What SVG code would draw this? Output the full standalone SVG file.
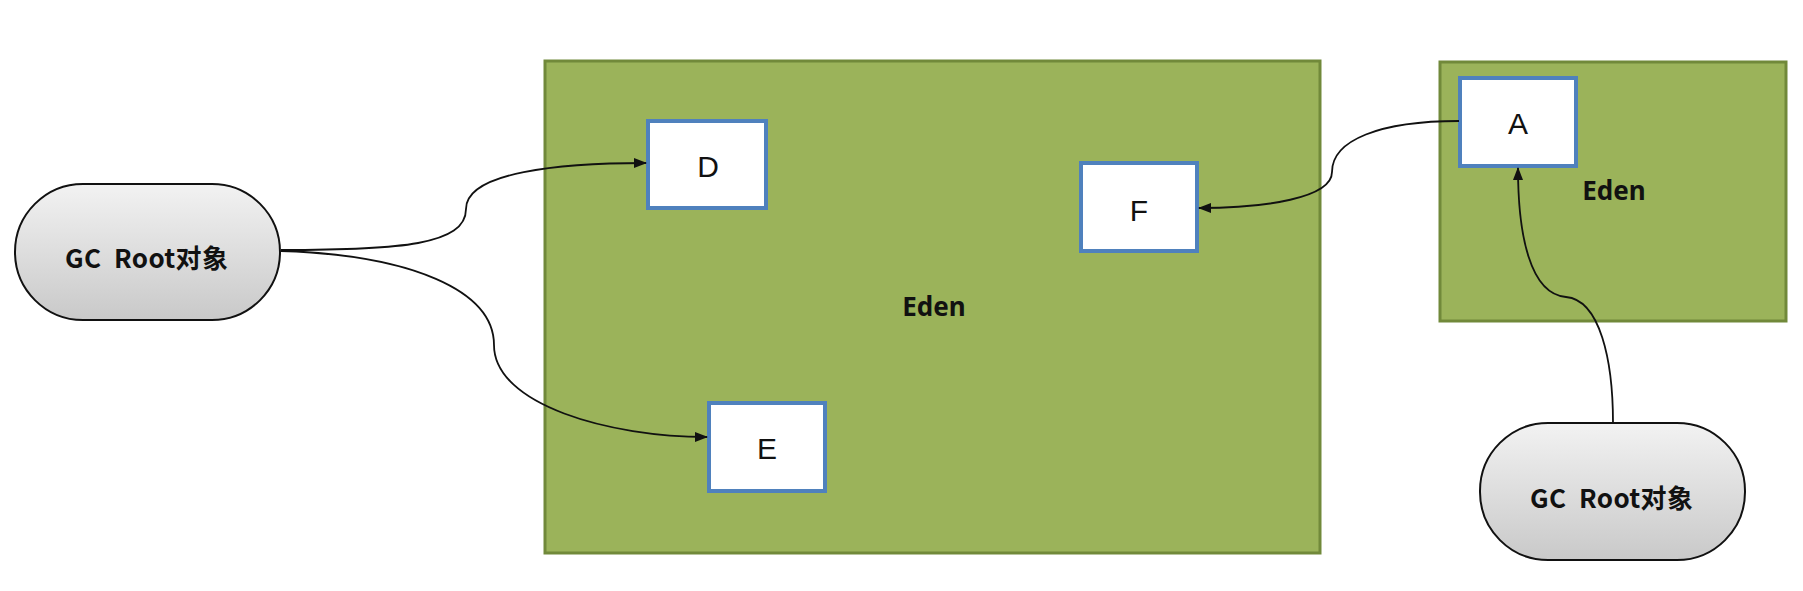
<svg xmlns="http://www.w3.org/2000/svg" width="1803" height="591" viewBox="0 0 1803 591">
<style>
.eden{fill:#9bb35a;stroke:#71893a;stroke-width:3}
.obj{fill:#ffffff;stroke:#4f81bd;stroke-width:4}
.lbl{font-family:"Liberation Sans","Noto Sans",sans-serif;font-size:30px;fill:#111;text-anchor:middle}
.edenlbl{font-family:"Noto Sans","Open Sans",sans-serif;font-weight:bold;font-size:26px;fill:#111;text-anchor:middle}
.root{fill:url(#g);stroke:#111;stroke-width:2}
.rootlbl{font-family:"Noto Sans CJK SC","Noto Sans",sans-serif;font-weight:bold;font-size:26px;fill:#111;white-space:pre}
.conn{fill:none;stroke:#111;stroke-width:1.8;marker-end:url(#arr)}
</style>
<defs>
<linearGradient id="g" x1="0" y1="0" x2="0" y2="1">
<stop offset="0" stop-color="#f2f2f2"/>
<stop offset="1" stop-color="#c9c9c9"/>
</linearGradient>
<marker id="arr" markerWidth="13" markerHeight="10" refX="12" refY="5" orient="auto" markerUnits="userSpaceOnUse">
<path d="M0,0 L13,5 L0,10 Z" fill="#111"/>
</marker>
</defs>
<g id="eden-main">
<rect class="eden" x="545" y="61" width="775" height="492"/>
<text class="edenlbl" x="934" y="316">Eden</text>
</g>
<g id="eden-right">
<rect class="eden" x="1440" y="62" width="346" height="259"/>
<text class="edenlbl" x="1614" y="200">Eden</text>
</g>
<g id="node-D">
<rect class="obj" x="648" y="121" width="118" height="87"/>
<text class="lbl" x="708" y="177">D</text>
</g>
<g id="node-E">
<rect class="obj" x="709" y="403" width="116" height="88"/>
<text class="lbl" x="767" y="459">E</text>
</g>
<g id="node-F">
<rect class="obj" x="1081" y="163" width="116" height="88"/>
<text class="lbl" x="1139" y="221">F</text>
</g>
<g id="node-A">
<rect class="obj" x="1460" y="78" width="116" height="88"/>
<text class="lbl" x="1518" y="134">A</text>
</g>
<g id="root-left">
<rect class="root" x="15" y="184" width="265" height="136" rx="68" ry="68"/>
<text class="rootlbl" x="65" y="268" textLength="163" lengthAdjust="spacing" xml:space="preserve">GC  Root对象</text>
</g>
<g id="root-right">
<rect class="root" x="1480" y="423" width="265" height="137" rx="68" ry="68"/>
<text class="rootlbl" x="1530" y="508" textLength="163" lengthAdjust="spacing" xml:space="preserve">GC  Root对象</text>
</g>
<g id="connectors">
<path class="conn" d="M281,250 C 400,250 466,245 466,209 C 466,172 560,163 646,163"/>
<path class="conn" d="M281,251 C 410,255 494,290 494,345 C 494,405 610,437 707,437"/>
<path class="conn" d="M1459,121 C 1380,121 1332,140 1332,172 C 1332,198 1265,208 1199,208"/>
<path class="conn" d="M1613,423 C 1613,360 1600,300 1566,297 C 1530,294 1518,235 1518,168"/>
</g>
</svg>
